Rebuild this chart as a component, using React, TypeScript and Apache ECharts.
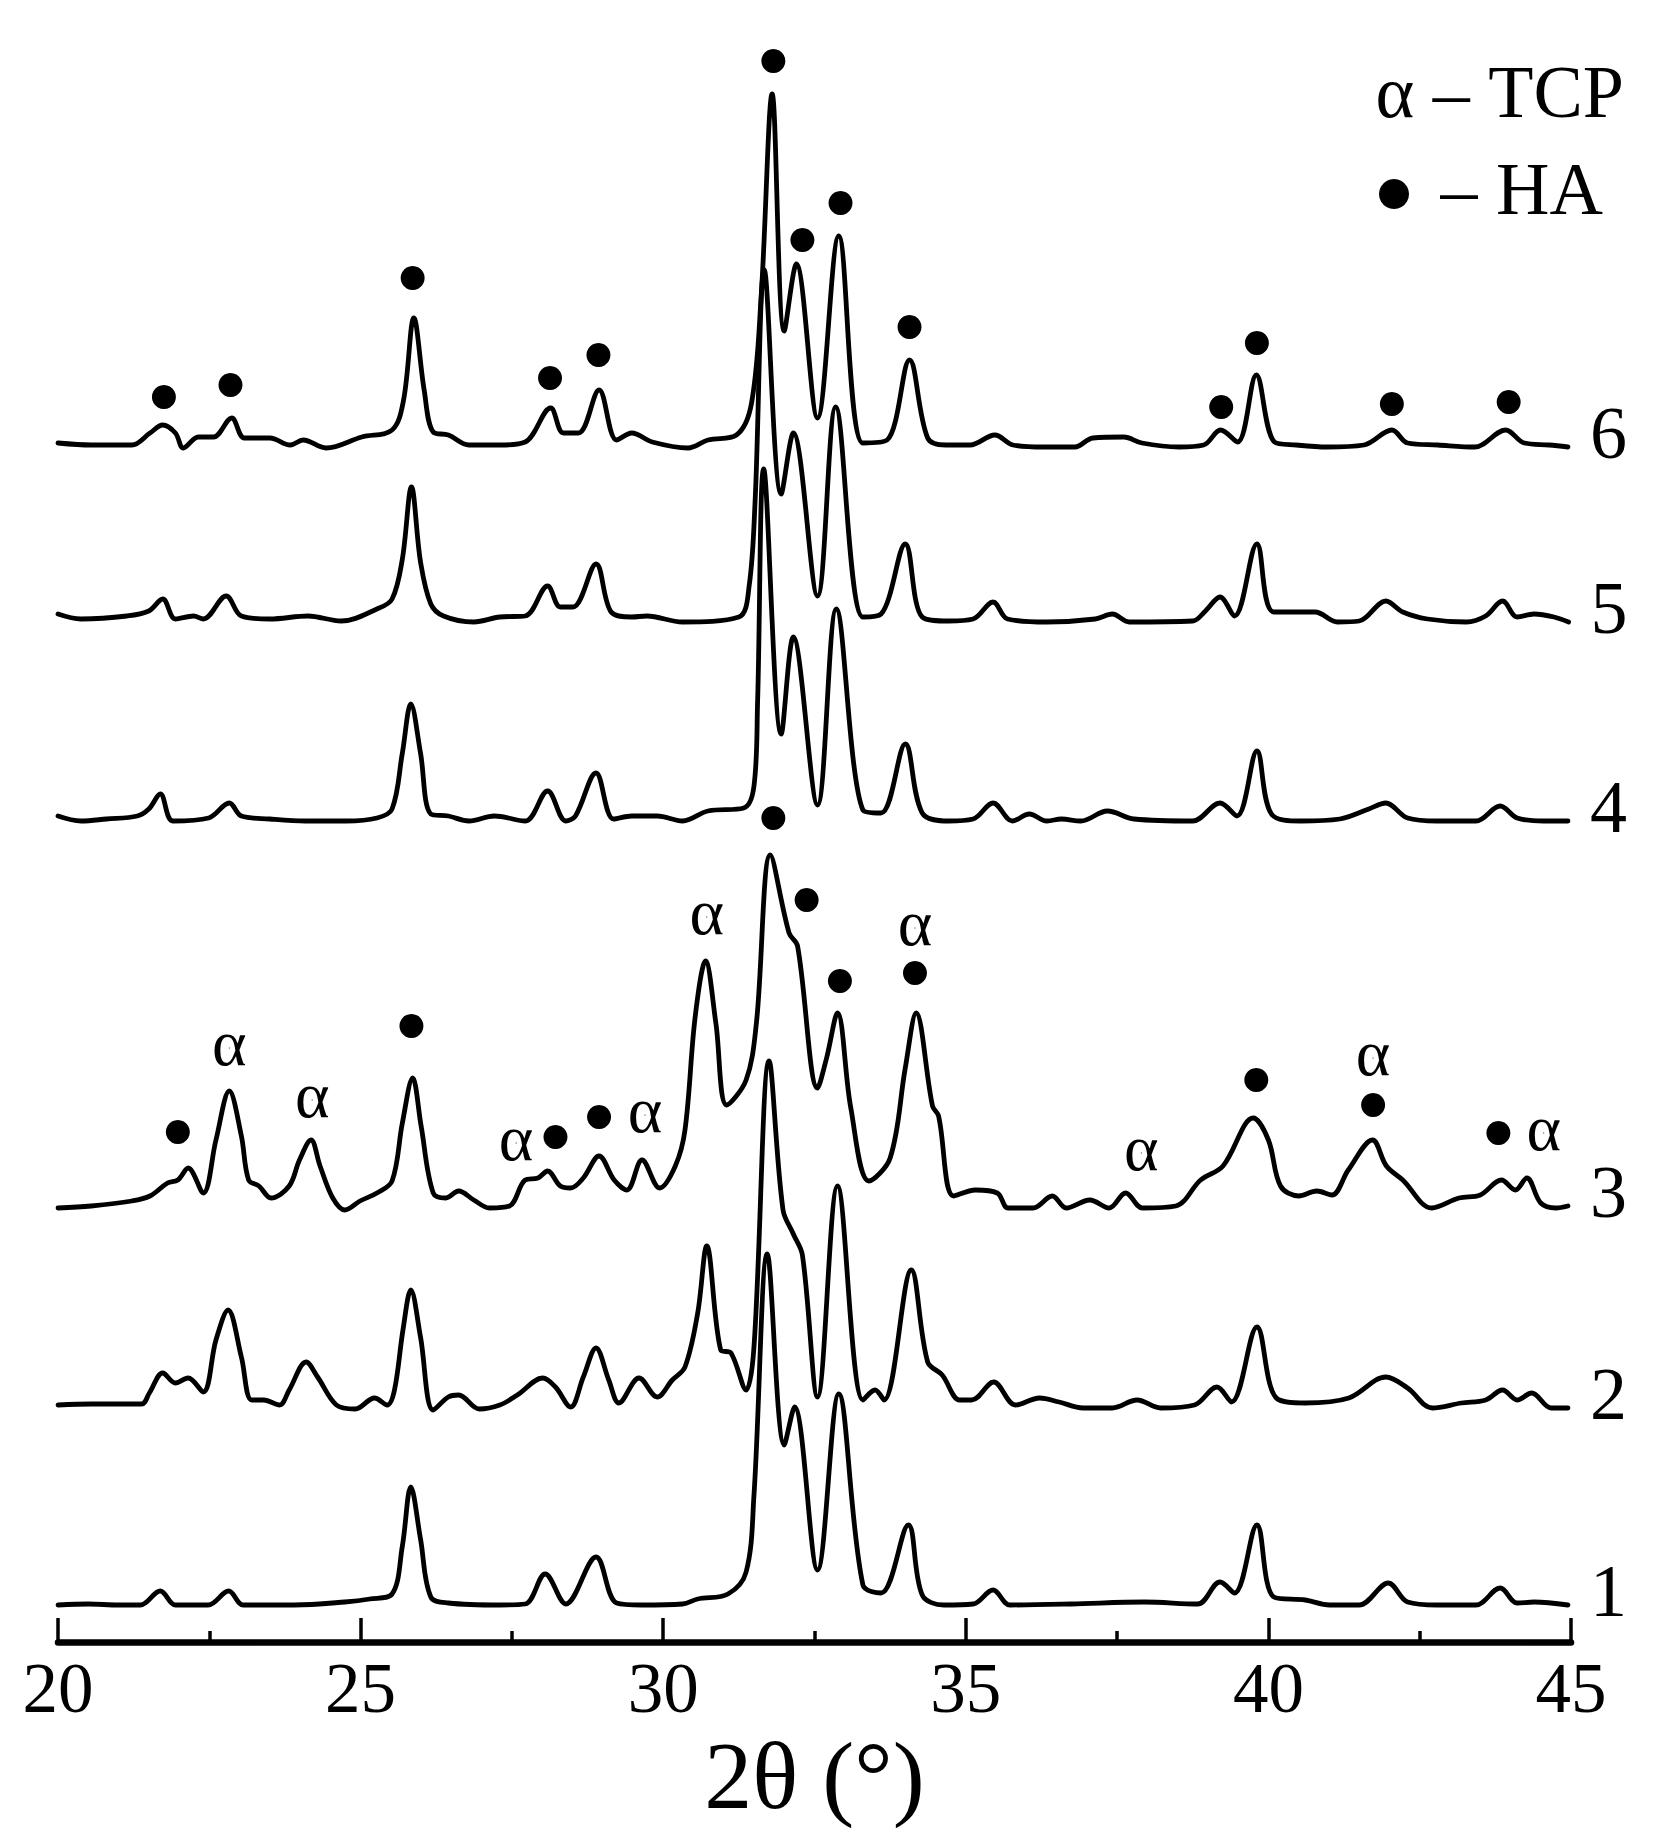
import React, { useEffect, useRef } from "react";
import * as echarts from "echarts";

const FONT = "'Liberation Serif', 'DejaVu Serif', serif";

// x-axis tick values (2θ, degrees)
const X_MIN = 20;
const X_MAX = 45;
const X_LABEL_STEP = 5;

// Trace labels and vertical offsets (stacking of patterns)
const TRACE_LABELS = ["1", "2", "3", "4", "5", "6"];
const TRACE_OFFSETS = [37, 237, 434, 821, 1023, 1197];

// Intensity above each trace's baseline, [2θ, intensity]
const trace1 = [
  [20.0, 0], [20.5, 1], [21.0, 0], [21.36, 0], [21.69, 14], [21.94, 0], [22.48, 0], [22.82, 14],
  [23.06, 0], [23.9, 0], [24.74, 3], [25.15, 6], [25.52, 11], [25.69, 59], [25.83, 118], [25.99, 66],
  [26.16, 8], [26.45, 2], [27.3, 0], [27.72, 1], [28.05, 31], [28.39, 1], [28.89, 48], [29.23, 2],
  [29.65, 0], [30.32, 1], [30.57, 6], [31.07, 11], [31.37, 33], [31.5, 110], [31.72, 351], [32.0, 160],
  [32.17, 198], [32.55, 35], [32.9, 211], [33.3, 20], [33.6, 12], [34.05, 80], [34.28, 10], [34.64, 0],
  [35.12, 1], [35.45, 15], [35.73, 0], [36.74, 1], [37.95, 3], [38.83, 1], [39.2, 23], [39.44, 12],
  [39.81, 80], [40.09, 8], [40.61, 5], [41.01, 0], [41.5, 0], [41.98, 22], [42.3, 3], [42.79, 0],
  [43.43, 0], [43.83, 17], [44.11, 2], [44.39, 3], [44.95, 0],
];

const trace2 = [
  [20.0, 0], [20.55, 1], [21.38, 1], [21.51, 12], [21.73, 32], [21.94, 22], [22.15, 27], [22.4, 13],
  [22.61, 65], [22.81, 95], [23.03, 48], [23.2, 5], [23.4, 5], [23.66, 0], [23.82, 15], [24.1, 43],
  [24.29, 28], [24.6, 0], [24.91, -4], [25.23, 7], [25.44, 0], [25.56, 15], [25.7, 75], [25.83, 115],
  [25.99, 68], [26.2, -5], [26.45, 8], [26.62, 10], [26.96, -4], [27.3, 0], [27.59, 10], [28.01, 27],
  [28.22, 18], [28.47, -2], [28.68, 28], [28.89, 57], [29.1, 25], [29.27, 2], [29.6, 27], [29.9, 8],
  [30.15, 25], [30.36, 38], [30.57, 92], [30.72, 159], [30.95, 55], [31.12, 52], [31.37, 15], [31.5, 58],
  [31.75, 344], [31.98, 195], [32.15, 171], [32.3, 150], [32.55, 8], [32.88, 219], [33.3, 5], [33.5, 15],
  [33.65, 5], [34.1, 135], [34.37, 43], [34.61, 30], [34.9, 5], [35.1, 5], [35.46, 23], [35.82, 0],
  [36.22, 7], [36.54, 3], [36.94, -3], [37.42, -3], [37.83, 5], [38.22, -3], [38.78, 0], [39.15, 18],
  [39.39, 3], [39.81, 78], [40.13, 7], [40.61, 2], [41.33, 7], [41.94, 28], [42.3, 17], [42.71, -3],
  [43.19, 2], [43.59, 5], [43.87, 15], [44.11, 5], [44.35, 12], [44.67, -3], [44.95, -3],
];

const trace3 = [
  [20.0, 0], [20.55, 2], [21.22, 7], [21.52, 12], [21.81, 25], [21.98, 28], [22.15, 40], [22.4, 15],
  [22.61, 68], [22.83, 117], [23.03, 72], [23.15, 28], [23.32, 22], [23.52, 10], [23.82, 22], [23.99, 48],
  [24.18, 68], [24.33, 42], [24.54, 10], [24.74, -2], [24.99, 7], [25.27, 15], [25.52, 27], [25.69, 85],
  [25.86, 130], [26.0, 82], [26.2, 15], [26.41, 10], [26.62, 17], [26.87, 8], [27.13, 0], [27.46, 2],
  [27.72, 28], [27.93, 30], [28.09, 37], [28.3, 22], [28.47, 20], [28.68, 30], [28.94, 52], [29.19, 28],
  [29.4, 18], [29.65, 48], [29.94, 20], [30.2, 42], [30.36, 78], [30.53, 192], [30.7, 247], [30.87, 185],
  [31.05, 103], [31.37, 128], [31.54, 185], [31.77, 353], [32.08, 275], [32.22, 262], [32.55, 120], [32.7, 150],
  [32.88, 195], [33.1, 100], [33.4, 27], [33.75, 50], [34.0, 140], [34.18, 195], [34.45, 102], [34.55, 92],
  [34.8, 12], [35.16, 18], [35.52, 15], [35.7, 0], [36.11, 0], [36.43, 12], [36.66, 0], [37.05, 8],
  [37.37, 0], [37.64, 15], [37.92, 0], [38.47, 2], [38.88, 28], [39.25, 42], [39.75, 90], [40.0, 68],
  [40.2, 22], [40.5, 12], [40.8, 17], [41.05, 13], [41.32, 38], [41.72, 68], [41.95, 42], [42.22, 28],
  [42.7, 0], [43.15, 10], [43.5, 13], [43.85, 28], [44.08, 18], [44.27, 30], [44.5, 5], [44.75, 0],
  [44.95, 2],
];

const trace4 = [
  [20.0, 5], [20.38, 0], [20.8, 2], [21.31, 5], [21.5, 12], [21.69, 27], [21.9, 0], [22.49, 3],
  [22.83, 18], [23.03, 5], [23.5, 2], [24.09, 0], [24.76, 0], [25.27, 3], [25.52, 12], [25.69, 68],
  [25.83, 117], [25.99, 68], [26.16, 7], [26.45, 5], [26.79, 0], [27.21, 5], [27.72, 0], [28.09, 30],
  [28.39, 0], [28.55, 5], [28.89, 48], [29.18, 2], [29.48, 5], [29.9, 5], [30.32, 0], [30.74, 10],
  [31.33, 13], [31.5, 35], [31.56, 120], [31.66, 352], [31.95, 87], [32.15, 184], [32.55, 16], [32.86, 212],
  [33.3, 11], [33.6, 8], [34.0, 77], [34.28, 8], [34.72, 0], [35.12, 2], [35.45, 18], [35.77, 0],
  [36.05, 7], [36.34, 0], [36.58, 2], [36.9, 0], [37.34, 10], [37.78, 2], [38.75, 0], [39.2, 18],
  [39.48, 5], [39.81, 70], [40.05, 7], [40.53, 0], [41.18, 2], [41.66, 12], [41.94, 18], [42.3, 3],
  [42.79, 0], [43.43, 0], [43.83, 15], [44.11, 3], [44.55, 0], [44.95, 0],
];

const trace5 = [
  [20.0, 5], [20.38, 0], [21.14, 3], [21.5, 8], [21.73, 20], [21.94, 0], [22.24, 3], [22.4, 0],
  [22.78, 23], [23.03, 3], [23.5, 0], [24.13, 3], [24.68, -2], [25.27, 10], [25.52, 20], [25.69, 60],
  [25.84, 132], [25.99, 57], [26.16, 15], [26.37, 3], [26.87, -3], [27.3, 2], [27.72, 3], [28.09, 33],
  [28.3, 12], [28.51, 12], [28.89, 55], [29.14, 7], [29.48, 2], [29.73, 3], [30.32, -3], [31.25, 2],
  [31.42, 33], [31.52, 120], [31.67, 349], [31.95, 125], [32.15, 186], [32.55, 23], [32.85, 212], [33.3, 2],
  [33.6, 5], [34.0, 75], [34.28, 2], [34.72, -2], [35.12, 0], [35.45, 17], [35.69, 0], [36.34, -3],
  [37.14, 0], [37.42, 5], [37.7, -3], [38.75, -2], [38.96, 8], [39.2, 22], [39.44, 3], [39.81, 75],
  [40.09, 7], [40.77, 7], [41.14, -3], [41.5, -2], [41.94, 18], [42.22, 7], [42.63, 0], [43.27, -3],
  [43.59, 3], [43.87, 18], [44.11, 2], [44.39, 5], [44.72, 2], [44.96, -3],
];

const trace6 = [
  [20.0, 2], [20.55, 0], [21.22, 0], [21.52, 12], [21.73, 20], [21.94, 12], [22.07, -3], [22.32, 8],
  [22.57, 8], [22.87, 27], [23.08, 7], [23.5, 7], [23.84, 0], [24.05, 5], [24.43, -3], [25.02, 8],
  [25.52, 15], [25.71, 45], [25.88, 127], [26.05, 55], [26.2, 13], [26.45, 10], [26.79, 0], [27.3, 0],
  [27.72, 3], [28.14, 37], [28.35, 12], [28.6, 12], [28.94, 55], [29.23, 5], [29.48, 12], [29.82, 3],
  [30.41, -3], [30.74, 5], [31.21, 10], [31.46, 42], [31.62, 150], [31.8, 351], [32.0, 114], [32.2, 181],
  [32.55, 27], [32.9, 209], [33.3, 2], [33.7, 5], [34.07, 85], [34.37, 7], [34.67, 0], [35.07, 0],
  [35.48, 10], [35.78, 0], [36.29, -2], [36.8, -2], [37.1, 7], [37.61, 8], [37.91, 2], [38.52, -2],
  [38.93, 0], [39.21, 15], [39.49, 3], [39.8, 70], [40.1, 3], [40.46, 0], [40.97, -2], [41.58, 0],
  [42.04, 15], [42.3, 2], [42.8, 0], [43.41, -2], [43.92, 15], [44.23, 2], [44.64, 0], [44.95, -2],
];

const TRACES = [trace1, trace2, trace3, trace4, trace5, trace6];

// Phase markers, [2θ, height above the trace baseline]
const haDots6 = [
  [21.75, 48], [22.85, 60], [25.86, 167], [28.13, 67], [28.93, 90], [31.82, 384], [32.3, 205],
  [32.93, 242], [34.07, 118], [39.22, 38], [39.81, 102], [42.04, 41], [43.97, 43],
];
const haDots3 = [
  [21.98, 76], [25.84, 182], [28.22, 71], [28.94, 91], [31.82, 390], [32.37, 308], [32.92, 227],
  [34.16, 235], [39.8, 128], [41.73, 103], [43.8, 75],
];
const alphaMarks3 = [
  [22.83, 160], [24.2, 108], [27.57, 65], [29.7, 93], [30.72, 291], [34.16, 280], [37.9, 55],
  [41.73, 150], [44.55, 75],
];

export default function App() {
  const ref = useRef<HTMLDivElement>(null);

  useEffect(() => {
    if (!ref.current) return;
    const chart = echarts.init(ref.current, null, { renderer: "svg" });

    const lineSeries = TRACES.map((tr, i) => ({
      type: "line",
      data: tr.map(([x, h]) => [x, h + TRACE_OFFSETS[i]]),
      showSymbol: false,
      smooth: 0.35,
      lineStyle: { color: "#000", width: 4.8, join: "round", cap: "round" },
      endLabel: {
        show: true,
        formatter: TRACE_LABELS[i],
        color: "#000",
        fontFamily: FONT,
        fontSize: 74,
        offset: [14, -14],
      },
      z: 2,
    }));

    const dotSeries = (pts: number[][], offset: number) => ({
      type: "scatter",
      data: pts.map(([x, h]) => [x, h + offset]),
      symbol: "circle",
      symbolSize: 24,
      itemStyle: { color: "#000", opacity: 1 },
      z: 3,
    });

    const option = {
      animation: false,
      backgroundColor: "#fff",
      grid: { left: 58, right: 94, top: 42, bottom: 205, containLabel: false },
      xAxis: {
        type: "value",
        min: X_MIN,
        max: X_MAX,
        interval: X_LABEL_STEP,
        name: "2θ (°)",
        nameLocation: "middle",
        nameGap: 76,
        nameTextStyle: { fontFamily: FONT, fontSize: 96, color: "#000" },
        axisLine: { show: true, lineStyle: { color: "#000", width: 6.5 } },
        axisTick: { show: true, inside: true, length: 24, lineStyle: { color: "#000", width: 3.5 } },
        minorTick: { show: true, splitNumber: 2, length: 11, lineStyle: { color: "#000", width: 3.5 } },
        axisLabel: { fontFamily: FONT, fontSize: 71, color: "#000", margin: 10 },
        splitLine: { show: false },
      },
      yAxis: { type: "value", min: 0, max: 1600, show: false },
      series: [
        ...lineSeries,
        dotSeries(haDots6, TRACE_OFFSETS[5]),
        dotSeries(haDots3, TRACE_OFFSETS[2]),
        {
          type: "scatter",
          data: alphaMarks3.map(([x, h]) => [x, h + TRACE_OFFSETS[2]]),
          symbol: "circle",
          symbolSize: 1,
          itemStyle: { color: "#000", opacity: 1 },
          label: {
            show: true,
            position: "inside",
            formatter: "α",
            fontFamily: FONT,
            fontSize: 66,
            color: "#000",
            opacity: 1,
            offset: [0, -6],
          },
          z: 3,
        },
      ],
      graphic: [
        {
          type: "text",
          right: 41,
          top: 55,
          style: { text: "α – TCP", fontFamily: FONT, fontSize: 74, fill: "#000" },
        },
        {
          type: "circle",
          shape: { cx: 1394, cy: 194, r: 15 },
          style: { fill: "#000" },
        },
        {
          type: "text",
          right: 62,
          top: 152,
          style: { text: "– HA", fontFamily: FONT, fontSize: 74, fill: "#000" },
        },
      ],
    };

    chart.setOption(option as any);
    return () => chart.dispose();
  }, []);

  return (
    <div
      ref={ref}
      style={{ position: "absolute", left: 0, top: 0, width: 1665, height: 1847, background: "#fff" }}
    />
  );
}
